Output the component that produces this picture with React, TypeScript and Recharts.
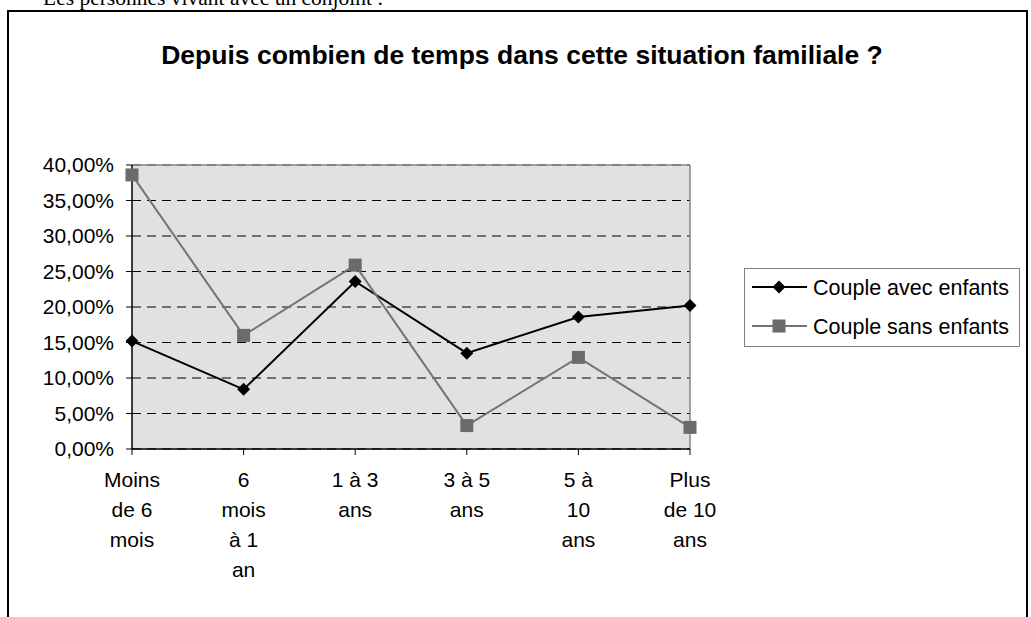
import React from 'react'
import {
  LineChart,
  Line,
  XAxis,
  YAxis,
  CartesianGrid,
  ReferenceLine,
} from 'recharts'

// categories (durée dans la situation familiale)
const CATEGORIES = [
  'Moins de 6 mois',
  '6 mois à 1 an',
  '1 à 3 ans',
  '3 à 5 ans',
  '5 à 10 ans',
  'Plus de 10 ans',
]

// tick labels as Excel wraps them
const TICK_LINES = [
  ['Moins', 'de 6', 'mois'],
  ['6', 'mois', 'à 1', 'an'],
  ['1 à 3', 'ans'],
  ['3 à 5', 'ans'],
  ['5 à', '10', 'ans'],
  ['Plus', 'de 10', 'ans'],
]

// values in %
const AVEC_ENFANTS = [15.2, 8.4, 23.6, 13.5, 18.6, 20.2]
const SANS_ENFANTS = [38.6, 16.0, 25.9, 3.3, 12.9, 3.05]

const Y_TICKS = [0, 5, 10, 15, 20, 25, 30, 35, 40]

const FONT = '"Liberation Sans", Arial, sans-serif'
const GRAY = '#747474'
const SQUARE = '#6b6b6b'

const data = CATEGORIES.map((c, i) => ({
  category: c,
  avec: AVEC_ENFANTS[i],
  sans: SANS_ENFANTS[i],
}))

const fmtPct = (v: number) => `${v.toFixed(2).replace('.', ',')}%`

const Diamond = (props: any) => {
  const { cx, cy } = props
  if (cx == null || cy == null) return null
  return (
    <path
      d={`M${cx},${cy - 6.5}L${cx + 6.5},${cy}L${cx},${cy + 6.5}L${cx - 6.5},${cy}Z`}
      fill="#000"
    />
  )
}

const Square = (props: any) => {
  const { cx, cy } = props
  if (cx == null || cy == null) return null
  return <rect x={cx - 6.5} y={cy - 6.5} width={13} height={13} fill={SQUARE} />
}

const XTick = ({ x, y, payload }: any) => {
  const lines = TICK_LINES[payload.index] || [payload.value]
  return (
    <text x={x} y={y} textAnchor="middle" fontSize={21} fill="#000" fontFamily={FONT}>
      {lines.map((l, i) => (
        <tspan key={i} x={x} y={y + 30 + i * 30}>
          {l}
        </tspan>
      ))}
    </text>
  )
}

export default function App() {
  return (
    <div
      style={{
        position: 'absolute',
        left: 0,
        top: 0,
        width: 1031,
        height: 617,
        overflow: 'hidden',
        background: '#fff',
      }}
    >
      {/* cadre, textes et légende */}
      <svg width={1031} height={617} style={{ position: 'absolute', left: 0, top: 0 }}>
        <text x={43} y={5} fontSize={21.5} fontFamily='"Liberation Serif", "Times New Roman", serif' fill="#000">
          Les personnes vivant avec un conjoint :
        </text>
        <rect x={8} y={11} width={1019} height={700} fill="none" stroke="#000" strokeWidth={2} />
        <text
          x={522}
          y={64}
          textAnchor="middle"
          fontSize={26.5}
          fontWeight="bold"
          fontFamily={FONT}
          fill="#000"
        >
          Depuis combien de temps dans cette situation familiale ?
        </text>

        <rect x={744.5} y={268.5} width={275} height={78} fill="#fff" stroke="#808080" strokeWidth={1} />
        <line x1={752} x2={807} y1={287} y2={287} stroke="#000" strokeWidth={2} />
        <Diamond cx={779} cy={287} />
        <text x={813} y={294.5} fontSize={21.5} fontFamily={FONT} fill="#000">
          Couple avec enfants
        </text>
        <line x1={752} x2={807} y1={326} y2={326} stroke={GRAY} strokeWidth={2} />
        <Square cx={779} cy={326} />
        <text x={813} y={333.5} fontSize={21.5} fontFamily={FONT} fill="#000">
          Couple sans enfants
        </text>
      </svg>

      <LineChart
        width={1031}
        height={617}
        data={data}
        margin={{ top: 165, right: 341, left: 32, bottom: 48 }}
        style={{ position: 'absolute', left: 0, top: 0, fontFamily: FONT }}
      >
        <CartesianGrid
          vertical={false}
          stroke="#000"
          strokeDasharray="9 6"
          fill="#e1e1e1"
          fillOpacity={1}
        />
        <ReferenceLine y={40} stroke="#868686" strokeWidth={1.5} />
        <ReferenceLine x={CATEGORIES[CATEGORIES.length - 1]} stroke="#868686" strokeWidth={1.5} />
        <XAxis
          dataKey="category"
          interval={0}
          height={120}
          tick={<XTick />}
          tickSize={6}
          tickMargin={2}
          axisLine={{ stroke: '#000', strokeWidth: 1.5 }}
          tickLine={{ stroke: '#000' }}
          padding={{ left: 0, right: 0 }}
        />
        <YAxis
          width={100}
          domain={[0, 40]}
          ticks={Y_TICKS}
          tickFormatter={fmtPct}
          tickSize={6}
          tickMargin={12}
          tick={{ fontSize: 21, fill: '#000', fontFamily: FONT }}
          axisLine={{ stroke: '#000', strokeWidth: 1.5 }}
          tickLine={{ stroke: '#000' }}
        />
        <Line
          type="linear"
          dataKey="avec"
          name="Couple avec enfants"
          stroke="#000"
          strokeWidth={2}
          dot={<Diamond />}
          activeDot={false}
          isAnimationActive={false}
        />
        <Line
          type="linear"
          dataKey="sans"
          name="Couple sans enfants"
          stroke={GRAY}
          strokeWidth={2}
          dot={<Square />}
          activeDot={false}
          isAnimationActive={false}
        />
      </LineChart>
    </div>
  )
}
